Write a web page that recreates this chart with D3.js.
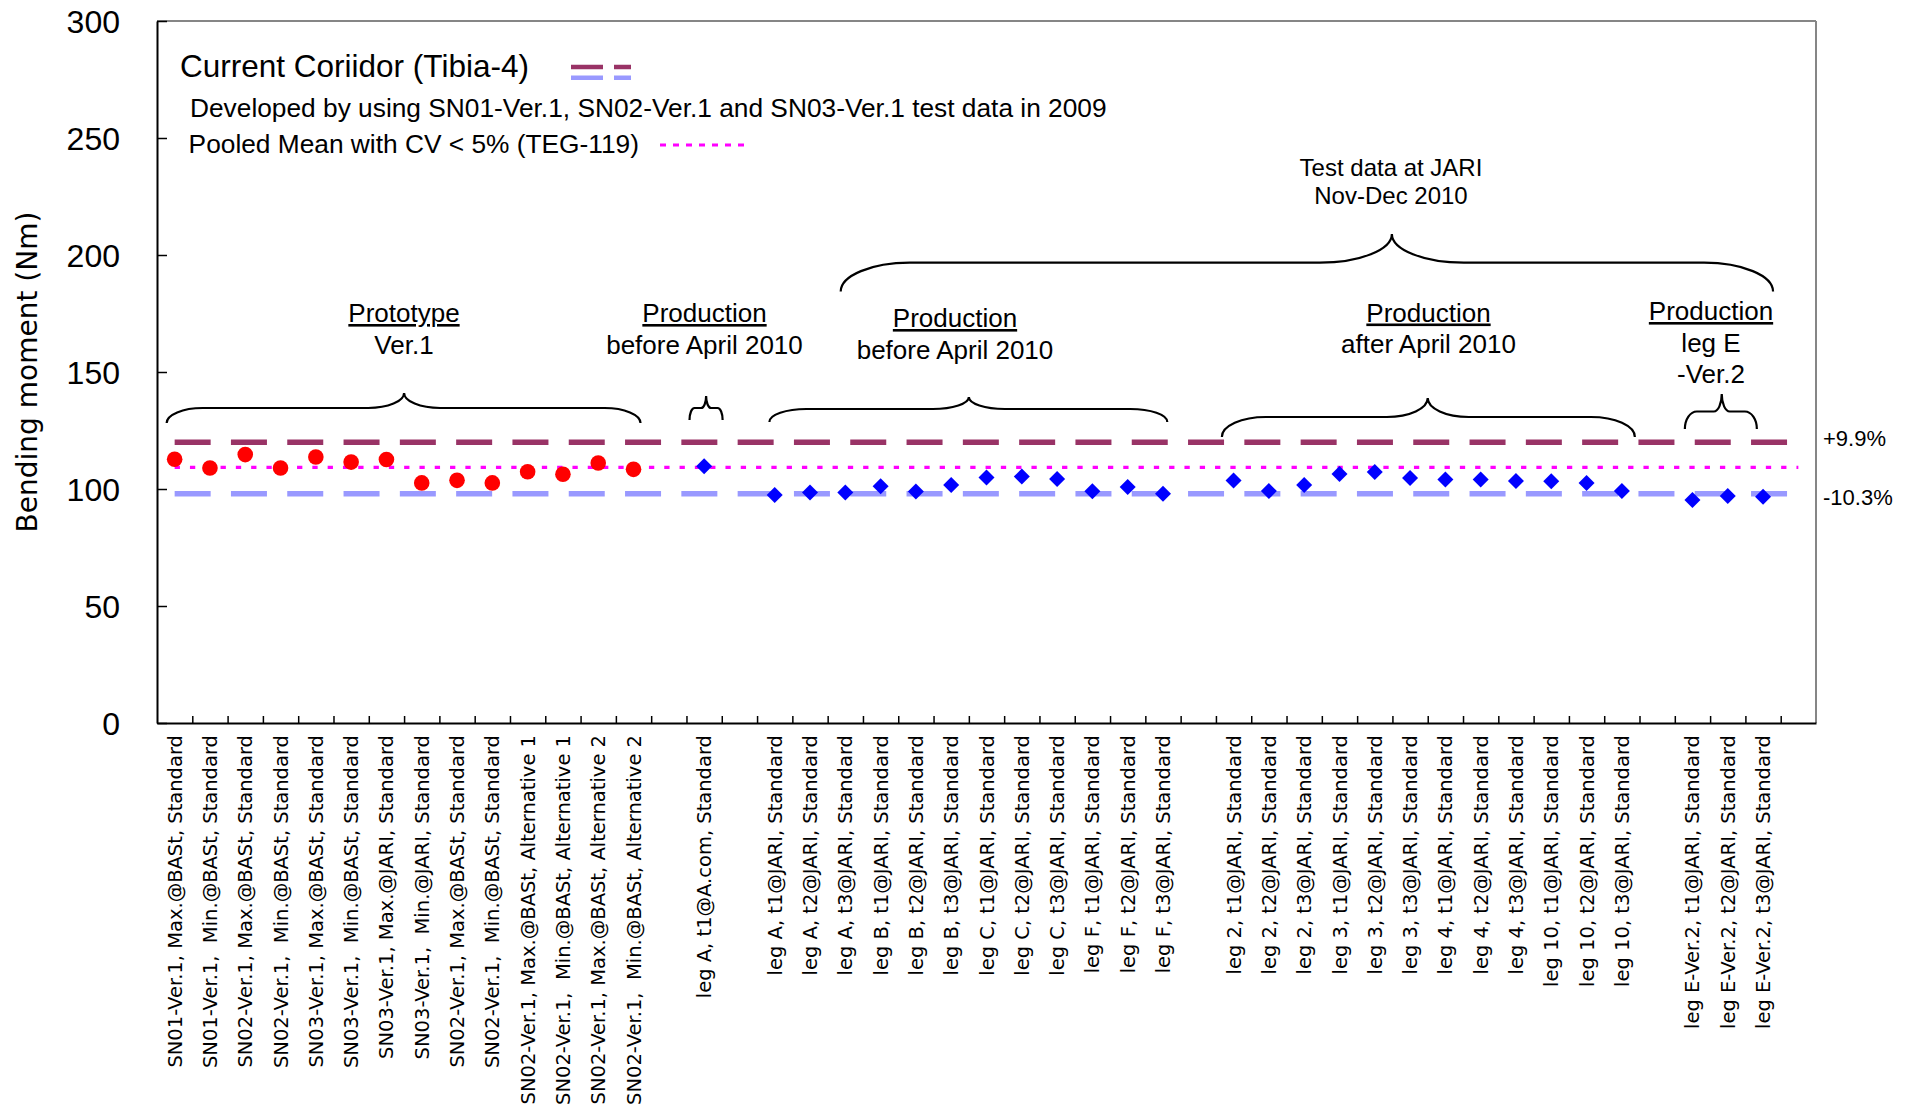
<!DOCTYPE html>
<html>
<head>
<meta charset="utf-8">
<script src="https://cdn.jsdelivr.net/npm/d3@7"></script>
<style>
  body { margin: 0; background: #fff; }
  text { font-family: "Liberation Sans", Arial, sans-serif; fill: #000; }
  .xlab { font-family: "DejaVu Sans", Verdana, sans-serif; white-space: pre; }
</style>
</head>
<body>
<div id="chart"></div>
<script>
// categories along the x axis ("" = empty slot between groups)
const categories = [
  "SN01-Ver.1, Max.@BASt, Standard",
  "SN01-Ver.1,  Min.@BASt, Standard",
  "SN02-Ver.1, Max.@BASt, Standard",
  "SN02-Ver.1,  Min.@BASt, Standard",
  "SN03-Ver.1, Max.@BASt, Standard",
  "SN03-Ver.1,  Min.@BASt, Standard",
  "SN03-Ver.1, Max.@JARI, Standard",
  "SN03-Ver.1,  Min.@JARI, Standard",
  "SN02-Ver.1, Max.@BASt, Standard",
  "SN02-Ver.1,  Min.@BASt, Standard",
  "SN02-Ver.1, Max.@BASt, Alternative 1",
  "SN02-Ver.1,  Min.@BASt, Alternative 1",
  "SN02-Ver.1, Max.@BASt, Alternative 2",
  "SN02-Ver.1,  Min.@BASt, Alternative 2",
  "",
  "leg A, t1@A.com, Standard",
  "",
  "leg A, t1@JARI, Standard",
  "leg A, t2@JARI, Standard",
  "leg A, t3@JARI, Standard",
  "leg B, t1@JARI, Standard",
  "leg B, t2@JARI, Standard",
  "leg B, t3@JARI, Standard",
  "leg C, t1@JARI, Standard",
  "leg C, t2@JARI, Standard",
  "leg C, t3@JARI, Standard",
  "leg F, t1@JARI, Standard",
  "leg F, t2@JARI, Standard",
  "leg F, t3@JARI, Standard",
  "",
  "leg 2, t1@JARI, Standard",
  "leg 2, t2@JARI, Standard",
  "leg 2, t3@JARI, Standard",
  "leg 3, t1@JARI, Standard",
  "leg 3, t2@JARI, Standard",
  "leg 3, t3@JARI, Standard",
  "leg 4, t1@JARI, Standard",
  "leg 4, t2@JARI, Standard",
  "leg 4, t3@JARI, Standard",
  "leg 10, t1@JARI, Standard",
  "leg 10, t2@JARI, Standard",
  "leg 10, t3@JARI, Standard",
  "",
  "leg E-Ver.2, t1@JARI, Standard",
  "leg E-Ver.2, t2@JARI, Standard",
  "leg E-Ver.2, t3@JARI, Standard",
  ""
];

// prototype tests (red circles), one value per slot, null = no point
const prototypeValues = [
  112.7, 109.0, 114.7, 109.0, 113.7, 111.5, 112.6, 102.6, 103.7, 102.6, 107.4, 106.3, 111.1, 108.4,
  null, null, null,
  null, null, null, null, null, null, null, null, null, null, null, null,
  null,
  null, null, null, null, null, null, null, null, null, null, null, null,
  null, null, null, null, null
];

// production tests (blue diamonds)
const productionValues = [
  null, null, null, null, null, null, null, null, null, null, null, null, null, null,
  null, 109.7, null,
  97.4, 98.5, 98.5, 101.2, 98.9, 101.7, 104.9, 105.3, 104.3, 99.0, 100.9, 98.0,
  null,
  103.6, 99.1, 101.7, 106.4, 107.3, 104.7, 104.1, 104.1, 103.4, 103.3, 102.6, 99.1,
  null, 95.3, 97.0, 96.7, null
];

const corridorUpper = 120.0;
const pooledMean = 109.2;
const corridorLower = 98.0;
const corridorLabels = ["+9.9%", "-10.3%"];
const yTicks = [0, 50, 100, 150, 200, 250, 300];

const W = 1917, H = 1108;
const margin = { left: 157, right: 101, top: 21, bottom: 385 };
const innerW = W - margin.left - margin.right;
const innerH = H - margin.top - margin.bottom;

const svg = d3.select("#chart").append("svg").attr("width", W).attr("height", H);
const g = svg.append("g").attr("transform", `translate(${margin.left},${margin.top})`);

const x = d3.scaleBand().domain(d3.range(categories.length)).range([0, innerW]);
const xEdge = d3.scaleLinear().domain([0, categories.length]).range([0, innerW]);
const y = d3.scaleLinear().domain([0, 300]).range([innerH, 0]);
const xc = (i) => x(i) + x.bandwidth() / 2;

// frame: top/right grey
g.append("line").attr("x1", 0).attr("x2", innerW).attr("y1", 0).attr("y2", 0)
  .attr("stroke", "#868686").attr("stroke-width", 2);
g.append("line").attr("x1", innerW).attr("x2", innerW).attr("y1", 0).attr("y2", innerH)
  .attr("stroke", "#868686").attr("stroke-width", 2);

// y axis
const yAxis = g.append("g").call(
  d3.axisLeft(y).tickValues(yTicks).tickSizeInner(-10).tickSizeOuter(0).tickPadding(37)
);
yAxis.select(".domain").attr("stroke", "#000").attr("stroke-width", 2);
yAxis.selectAll(".tick line").attr("stroke", "#000").attr("stroke-width", 1.5);
yAxis.selectAll(".tick text").attr("font-family", null).style("font-size", "32px")
  .attr("dy", "0.36em");

// x axis (ticks between categories, pointing in)
const xAxis = g.append("g").attr("transform", `translate(0,${innerH})`).call(
  d3.axisBottom(xEdge).tickValues(d3.range(1, categories.length)).tickSizeInner(-7)
    .tickSizeOuter(0).tickFormat("")
);
xAxis.select(".domain").attr("stroke", "#000").attr("stroke-width", 2);
xAxis.selectAll(".tick line").attr("stroke", "#000").attr("stroke-width", 1.5);

g.append("g").selectAll("text")
  .data(categories)
  .join("text")
  .attr("class", "xlab")
  .attr("transform", (d, i) => `translate(${xc(i)},${innerH + 12}) rotate(-90)`)
  .attr("text-anchor", "end")
  .attr("dy", "0.36em")
  .style("font-size", "19.5px")
  .text((d) => d);

// y title
svg.append("text")
  .attr("transform", `translate(37,${margin.top + y(150) + 0})  rotate(-90)`)
  .attr("text-anchor", "middle")
  .style("font-family", '"DejaVu Sans", Verdana, sans-serif')
  .style("font-size", "28px")
  .text("Bending moment (Nm)");

// corridor + pooled mean lines
const refLines = [
  { v: corridorUpper, color: "#993366", w: 5.5, dash: "36 20.3" },
  { v: corridorLower, color: "#9999ff", w: 5.5, dash: "36 20.3" },
  { v: pooledMean, color: "#ff00ff", w: 3.3, dash: "5.3 10" }
];
g.append("g").selectAll("line").data(refLines).join("line")
  .attr("x1", xc(0)).attr("x2", xc(categories.length - 1))
  .attr("y1", (d) => y(d.v)).attr("y2", (d) => y(d.v))
  .attr("stroke", (d) => d.color).attr("stroke-width", (d) => d.w)
  .attr("stroke-dasharray", (d) => d.dash);

g.append("g").selectAll("text").data([corridorUpper, corridorLower]).join("text")
  .attr("x", innerW + 7)
  .attr("y", (d, i) => y(d) + (i === 0 ? 4 : 11))
  .style("font-size", "22px")
  .text((d, i) => corridorLabels[i]);

// braces and group titles
function bracePath(b) {
  const { x0, x1, xt, yEnd, yBar, yTip, rE, rT } = b;
  return `M${x0},${yEnd} A${rE},${yEnd - yBar} 0 0 1 ${x0 + rE},${yBar}` +
    ` L${xt - rT},${yBar} A${rT},${yBar - yTip} 0 0 0 ${xt},${yTip}` +
    ` A${rT},${yBar - yTip} 0 0 0 ${xt + rT},${yBar} L${x1 - rE},${yBar}` +
    ` A${rE},${yEnd - yBar} 0 0 1 ${x1},${yEnd}`;
}
const braces = [
  { from: 0, to: 13, pl: -8, pr: 7, tipShift: 0, yEnd: 402, yBar: 387, yTip: 372, rE: 36, rT: 36 },
  { from: 15, to: 15, pl: -14.6, pr: 18.5, tipShift: 2, yEnd: 399, yBar: 387, yTip: 375, rE: 5, rT: 5 },
  { from: 17, to: 28, pl: -5.3, pr: 4.3, tipShift: 0, yEnd: 401, yBar: 388, yTip: 376, rE: 37, rT: 36 },
  { from: 30, to: 41, pl: -11.7, pr: 13, tipShift: 0, yEnd: 416, yBar: 396, yTip: 377, rE: 44, rT: 41 },
  { from: 43, to: 45, pl: -7.6, pr: -6.2, tipShift: -6, yEnd: 408, yBar: 390.5, yTip: 373, rE: 12, rT: 8 },
  { from: 17, to: 45, pl: 66, pr: 10, tipShift: 123, yEnd: 270.5, yBar: 241.7, yTip: 213, rE: 69, rT: 72 }
];
g.append("g").selectAll("path").data(braces).join("path")
  .attr("d", (b) => {
    const x0 = xc(b.from) + b.pl, x1 = xc(b.to) + b.pr;
    const xt = (xc(b.from) + xc(b.to)) / 2 + b.tipShift;
    return bracePath({ x0, x1, xt, yEnd: b.yEnd, yBar: b.yBar, yTip: b.yTip, rE: b.rE, rT: b.rT });
  })
  .attr("fill", "none").attr("stroke", "#000").attr("stroke-width", 2.2);

const groupTitles = [
  { cx: 247, lines: ["Prototype", "Ver.1"], y0: 301 },
  { cx: 547.5, lines: ["Production", "before April 2010"], y0: 301 },
  { cx: 798, lines: ["Production", "before April 2010"], y0: 306 },
  { cx: 1271.5, lines: ["Production", "after April 2010"], y0: 300.5 },
  { cx: 1554, lines: ["Production", "leg E", "-Ver.2"], y0: 299 }
];
const gt = g.append("g").selectAll("text").data(groupTitles).join("text")
  .attr("text-anchor", "middle").style("font-size", "26px");
gt.selectAll("tspan").data((d) => d.lines.map((t, k) => ({ t, k, d }))).join("tspan")
  .attr("x", (e) => e.d.cx)
  .attr("y", (e) => e.d.y0 + e.k * 31.5)
  .style("text-decoration", (e) => (e.k === 0 ? "underline" : null))
  .text((e) => e.t);

g.append("text").attr("text-anchor", "middle").style("font-size", "24px")
  .selectAll("tspan").data(["Test data at JARI", "Nov-Dec 2010"]).join("tspan")
  .attr("x", 1234).attr("y", (d, i) => 155 + i * 28).text((d) => d);

// legend
const leg = g.append("g");
leg.append("text").attr("x", 23).attr("y", 56).style("font-size", "31.5px")
  .text("Current Coriidor (Tibia-4)");
leg.append("line").attr("x1", 414).attr("x2", 474).attr("y1", 46).attr("y2", 46)
  .attr("stroke", "#993366").attr("stroke-width", 4.6).attr("stroke-dasharray", "32 11");
leg.append("line").attr("x1", 414).attr("x2", 474).attr("y1", 56.7).attr("y2", 56.7)
  .attr("stroke", "#9999ff").attr("stroke-width", 4.6).attr("stroke-dasharray", "32 11");
leg.append("text").attr("x", 33).attr("y", 95.6).style("font-size", "26.3px")
  .text("Developed by using SN01-Ver.1, SN02-Ver.1 and SN03-Ver.1 test data in 2009");
leg.append("text").attr("x", 31.6).attr("y", 131.6).style("font-size", "26.3px")
  .text("Pooled Mean with CV < 5% (TEG-119)");
leg.append("line").attr("x1", 503).attr("x2", 592).attr("y1", 124).attr("y2", 124)
  .attr("stroke", "#ff00ff").attr("stroke-width", 3).attr("stroke-dasharray", "6 7");

// points
const protoPts = prototypeValues.map((v, i) => ({ i, v })).filter((d) => d.v !== null);
const prodPts = productionValues.map((v, i) => ({ i, v })).filter((d) => d.v !== null);

g.append("g").selectAll("circle").data(protoPts).join("circle")
  .attr("cx", (d) => xc(d.i)).attr("cy", (d) => y(d.v)).attr("r", 7.8)
  .attr("fill", "#ff0000");

const diamond = d3.symbol().type(d3.symbolSquare).size(128);
g.append("g").selectAll("path").data(prodPts).join("path")
  .attr("d", diamond)
  .attr("transform", (d) => `translate(${xc(d.i)},${y(d.v)}) rotate(45)`)
  .attr("fill", "#0000ff");
</script>
</body>
</html>
